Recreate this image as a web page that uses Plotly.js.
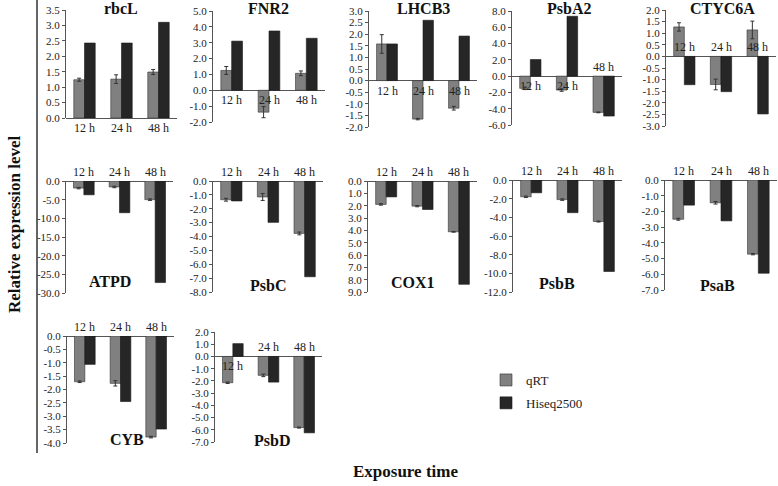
<!DOCTYPE html>
<html>
<head>
<meta charset="utf-8">
<script src="https://cdn.plot.ly/plotly-3.0.1.min.js"></script>
<style>html,body{margin:0;padding:0;background:#fff;}#chart{width:778px;height:486px;}</style>
</head>
<body>
<div id="chart"></div>
<script>
// ---- data ----
const times = ['12 h', '24 h', '48 h'];
const genes = ['rbcL','FNR2','LHCB3','PsbA2','CTYC6A','ATPD','PsbC','COX1','PsbB','PsaB','CYB','PsbD'];

const rbcL_qRT = [1.24, 1.26, 1.49];   const rbcL_err = [0.05, 0.14, 0.08];   const rbcL_hiseq = [2.43, 2.43, 3.10];
const FNR2_qRT = [1.25, -1.38, 1.07];  const FNR2_err = [0.25, 0.35, 0.15];   const FNR2_hiseq = [3.10, 3.74, 3.28];
const LHCB3_qRT = [1.58, -1.66, -1.19]; const LHCB3_err = [0.40, 0.03, 0.08]; const LHCB3_hiseq = [1.58, 2.60, 1.92];
const PsbA2_qRT = [-1.50, -1.71, -4.45]; const PsbA2_err = [0.15, 0.15, 0.05]; const PsbA2_hiseq = [2.04, 7.35, -4.90];
const CTYC6A_qRT = [1.27, -1.21, 1.14]; const CTYC6A_err = [0.18, 0.23, 0.38]; const CTYC6A_hiseq = [-1.22, -1.52, -2.48];
const ATPD_qRT = [-1.9, -1.6, -5.0];    const ATPD_err = [0.2, 0.2, 0.2];     const ATPD_hiseq = [-3.7, -8.5, -27.2];
const PsbC_qRT = [-1.35, -1.15, -3.78]; const PsbC_err = [0.10, 0.25, 0.10];  const PsbC_hiseq = [-1.44, -2.98, -6.90];
const COX1_qRT = [1.90, 2.04, 4.12];    const COX1_err = [0.06, 0.05, 0.03];  const COX1_hiseq = [1.29, 2.31, 8.38];
const PsbB_qRT = [-1.80, -2.10, -4.45]; const PsbB_err = [0.08, 0.08, 0.05];  const PsbB_hiseq = [-1.37, -3.50, -9.80];
const PsaB_qRT = [-2.50, -1.45, -4.72]; const PsaB_err = [0.06, 0.08, 0.04];  const PsaB_hiseq = [-1.60, -2.60, -5.93];
const CYB_qRT = [-1.71, -1.77, -3.78];  const CYB_err = [0.03, 0.10, 0.03];   const CYB_hiseq = [-1.06, -2.45, -3.48];
const PsbD_qRT = [-2.15, -1.55, -5.82]; const PsbD_err = [0.06, 0.10, 0.04];  const PsbD_hiseq = [1.05, -2.10, -6.25];

const seriesQ = [rbcL_qRT, FNR2_qRT, LHCB3_qRT, PsbA2_qRT, CTYC6A_qRT, ATPD_qRT, PsbC_qRT, COX1_qRT, PsbB_qRT, PsaB_qRT, CYB_qRT, PsbD_qRT];
const seriesE = [rbcL_err, FNR2_err, LHCB3_err, PsbA2_err, CTYC6A_err, ATPD_err, PsbC_err, COX1_err, PsbB_err, PsaB_err, CYB_err, PsbD_err];
const seriesH = [rbcL_hiseq, FNR2_hiseq, LHCB3_hiseq, PsbA2_hiseq, CTYC6A_hiseq, ATPD_hiseq, PsbC_hiseq, COX1_hiseq, PsbB_hiseq, PsaB_hiseq, CYB_hiseq, PsbD_hiseq];

// ---- panel layout (pixel boxes, axis ranges, label sides, title positions) ----
const panels = [
  {x0:66,  x1:177, yt:10,  yb:118, min:0,   max:3.5, dt:0.5, side:'bbb', tx:121, ty:8},
  {x0:213, x1:325, yt:11,  yb:122, min:-2,  max:5,   dt:1,   side:'bbb', tx:268, ty:8},
  {x0:369, x1:477, yt:11,  yb:127, min:-2,  max:3,   dt:0.5, side:'bbb', tx:423, ty:8},
  {x0:512, x1:622, yt:11,  yb:125, min:-6,  max:8,   dt:2,   side:'bba', tx:569, ty:8},
  {x0:666, x1:776, yt:10,  yb:126, min:-3,  max:2,   dt:0.5, side:'aaa', tx:722, ty:8},
  {x0:66,  x1:173, yt:181, yb:293, min:-30, max:0,   dt:5,   side:'aaa', tx:110, ty:281},
  {x0:213, x1:323, yt:181, yb:292, min:-8,  max:0,   dt:1,   side:'aaa', tx:268, ty:285},
  {x0:368, x1:477, yt:181, yb:292, min:0,   max:9,   dt:1,   side:'aaa', tx:413, ty:282, rev:true},
  {x0:513, x1:622, yt:180, yb:292, min:-12, max:0,   dt:2,   side:'aaa', tx:557, ty:283},
  {x0:665, x1:777, yt:180, yb:290, min:-7,  max:0,   dt:1,   side:'aaa', tx:717, ty:285},
  {x0:67,  x1:174, yt:336, yb:443, min:-4,  max:0,   dt:0.5, side:'aaa', tx:127, ty:439},
  {x0:215, x1:322, yt:332, yb:442, min:-7,  max:2,   dt:1,   side:'baa', tx:272, ty:440}
];

const W = 778, H = 486;
const fx = p => p / W;
const fy = p => 1 - p / H;
const SERIF = 'Liberation Serif, Times New Roman, serif';
const AX = '#555';

const data = [];
const layout = {
  width: W, height: H,
  margin: {l:0, r:0, t:0, b:0},
  paper_bgcolor: '#fff', plot_bgcolor: 'rgba(0,0,0,0)',
  barmode: 'group', bargap: 0.42, bargroupgap: 0,
  showlegend: true,
  legend: {x: fx(486), y: fy(365), xanchor: 'left', yanchor: 'top',
           font: {family: SERIF, size: 13, color: '#222'},
           traceorder: 'grouped', tracegroupgap: 3, bgcolor: 'rgba(0,0,0,0)'},
  annotations: [],
  shapes: [
    {type:'line', xref:'paper', yref:'paper', x0:fx(37), x1:fx(37), y0:fy(0), y1:fy(453), line:{color:'#333', width:1.5}}
  ]
};

panels.forEach((p, i) => {
  const n = i + 1;
  const sx = n === 1 ? '' : String(n);
  const xa = 'x' + sx, ya = 'y' + sx;
  const tv = [], tt = [];
  const steps = Math.round((p.max - p.min) / p.dt);
  for (let k = 0; k <= steps; k++) {
    const v = p.min + k * p.dt;
    tv.push(v);
    tt.push(v.toFixed(1));
  }
  layout['xaxis' + sx] = {
    domain: [fx(p.x0), fx(p.x1)], anchor: ya, type: 'category',
    range: [-0.5, 2.5], showticklabels: false, showgrid: false,
    zeroline: false, showline: false, ticks: '', fixedrange: true
  };
  layout['yaxis' + sx] = {
    domain: [fy(p.yb), fy(p.yt)], anchor: xa,
    range: p.rev ? [p.max, p.min] : [p.min, p.max],
    tickmode: 'array', tickvals: tv, ticktext: tt,
    ticks: 'outside', ticklen: 3, tickcolor: AX, tickwidth: 1,
    showline: true, linecolor: AX, linewidth: 1,
    zeroline: true, zerolinecolor: AX, zerolinewidth: 1,
    showgrid: false, fixedrange: true,
    tickfont: {family: SERIF, size: 11, color: '#222'}
  };

  data.push({
    type: 'bar', name: 'qRT', legendgroup: 'q', showlegend: n === 1,
    x: times, y: seriesQ[i], xaxis: xa, yaxis: ya,
    marker: {color: '#808080', line: {color: '#333', width: 0.6}},
    error_y: {type: 'data', array: seriesE[i], visible: true, color: '#333', thickness: 1, width: 2}
  });
  data.push({
    type: 'bar', name: 'Hiseq2500', legendgroup: 'h', showlegend: n === 1,
    x: times, y: seriesH[i], xaxis: xa, yaxis: ya,
    marker: {color: '#262626', line: {color: '#1a1a1a', width: 0.6}}
  });

  times.forEach((t, k) => {
    const above = p.side[k] === 'a';
    layout.annotations.push({
      xref: xa, yref: ya, x: t, y: 0, text: t, showarrow: false,
      yanchor: above ? 'bottom' : 'top', yshift: above ? 0 : -1,
      font: {family: SERIF, size: 12, color: '#222'}
    });
  });

  layout.annotations.push({
    xref: 'paper', yref: 'paper', x: fx(p.tx), y: fy(p.ty), text: '<b>' + genes[i] + '</b>',
    showarrow: false, xanchor: 'center', yanchor: 'middle',
    font: {family: SERIF, size: 16, color: '#111'}
  });
});

layout.annotations.push({
  xref: 'paper', yref: 'paper', x: fx(14), y: fy(225), text: '<b>Relative expression level</b>',
  textangle: -90, showarrow: false, xanchor: 'center', yanchor: 'middle',
  font: {family: SERIF, size: 17, color: '#111'}
});
layout.annotations.push({
  xref: 'paper', yref: 'paper', x: fx(405), y: fy(471), text: '<b>Exposure time</b>',
  showarrow: false, xanchor: 'center', yanchor: 'middle',
  font: {family: SERIF, size: 17, color: '#111'}
});

Plotly.newPlot('chart', data, layout, {displayModeBar: false, staticPlot: true});
</script>
</body>
</html>
